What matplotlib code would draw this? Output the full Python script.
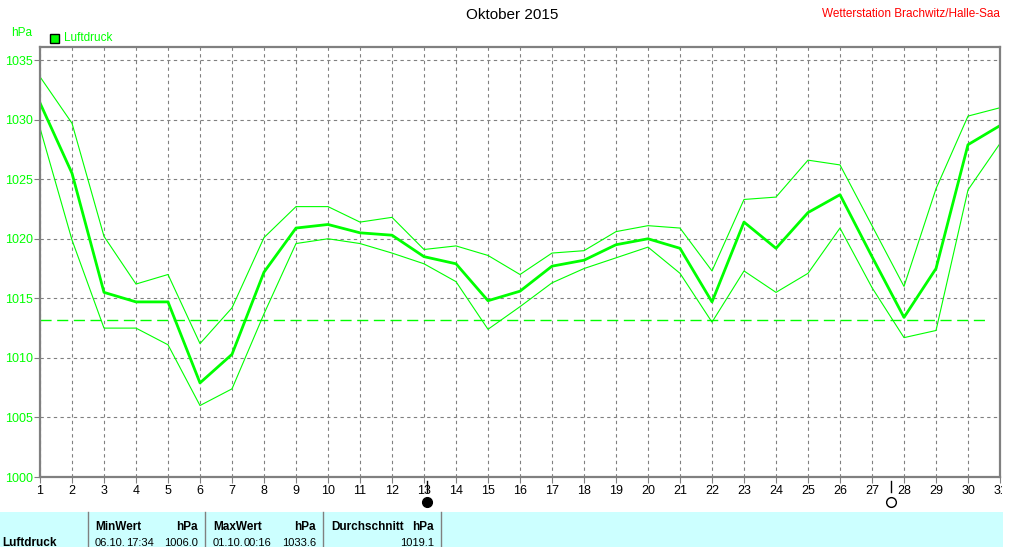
import matplotlib.pyplot as plt
from matplotlib.transforms import Bbox

plt.rcParams['font.family'] = ['Liberation Sans', 'DejaVu Sans']

days = list(range(1, 32))
p_mean = [1031.4, 1025.5, 1015.5, 1014.7, 1014.7, 1007.9, 1010.3, 1017.2, 1020.9, 1021.2,
          1020.5, 1020.3, 1018.5, 1017.9, 1014.8, 1015.6, 1017.7, 1018.2, 1019.5, 1020.0,
          1019.2, 1014.7, 1021.4, 1019.2, 1022.2, 1023.7, 1018.5, 1013.4, 1017.5, 1027.9, 1029.5]
p_max = [1033.6, 1029.7, 1020.2, 1016.2, 1017.0, 1011.2, 1014.2, 1020.1, 1022.7, 1022.7,
         1021.4, 1021.8, 1019.1, 1019.4, 1018.6, 1017.0, 1018.8, 1019.0, 1020.6, 1021.1,
         1020.9, 1017.3, 1023.3, 1023.5, 1026.6, 1026.2, 1021.1, 1016.0, 1024.2, 1030.3, 1031.0]
p_min = [1029.3, 1019.9, 1012.5, 1012.5, 1011.1, 1006.0, 1007.4, 1013.7, 1019.6, 1020.0,
         1019.6, 1018.8, 1017.9, 1016.4, 1012.4, 1014.3, 1016.3, 1017.5, 1018.4, 1019.3,
         1017.1, 1013.0, 1017.3, 1015.5, 1017.1, 1020.9, 1015.9, 1011.7, 1012.3, 1024.1, 1028.0]
ref_level = 1013.2
new_moon = 13.1
full_moon = 27.6

green = '#00ff00'
grey = '#808080'
W, H = 1021, 547

fig = plt.figure(figsize=(W / 100, H / 100), dpi=100)
ax = fig.add_axes([40 / W, 1 - 477 / H, 960 / W, 430 / H])

ax.plot(days, p_max, color=green, lw=0.8)
ax.plot(days, p_min, color=green, lw=0.8)
ax.plot(days, p_mean, color=green, lw=2.0)
ax.plot([1, 30.7], [ref_level, ref_level], color=green, lw=1.0, dashes=(8, 4))

ax.set_xlim(1, 31)
ax.set_ylim(1000, 1036.1)
ax.set_xticks(days)
ax.set_xticklabels([str(d) for d in days])
ax.set_yticks(range(1000, 1036, 5))
ax.grid(True, color=grey, ls=(0, (3, 3)), lw=0.8)
ax.tick_params(axis='x', colors=grey, labelcolor='black', labelsize=9, length=4, pad=2)
ax.tick_params(axis='y', colors=grey, labelcolor=green, labelsize=9, length=4, pad=1)
for s in ax.spines.values():
    s.set_color(grey)
    s.set_linewidth(1.6)

# clip the last x label like the original
clip = Bbox.from_extents(0, 0, 1002, H)
for lbl in ax.get_xticklabels():
    lbl.set_clip_on(True)
    lbl.set_clip_box(clip)

# moon phases
for d, fc in [(new_moon, 'black'), (full_moon, 'white')]:
    ax.plot([d, d], [-0.01, -0.035], transform=ax.get_xaxis_transform(), color='black',
            lw=1.0, clip_on=False)
    ax.plot([d], [-0.058], transform=ax.get_xaxis_transform(), marker='o', ms=7,
            mfc=fc, mec='black', mew=1.0, clip_on=False)

# header
fig.text(512 / W, 1 - 15 / H, 'Oktober 2015', ha='center', va='center', fontsize=11)
fig.text(1000 / W, 1 - 14 / H, 'Wetterstation Brachwitz/Halle-Saa', ha='right', va='center',
         fontsize=8.5, color='red')
fig.text(11 / W, 1 - 33 / H, 'hPa', ha='left', va='center', fontsize=8.5, color=green)
fig.patches.append(plt.Rectangle((50 / W, 1 - 43 / H), 9 / W, 9 / H, transform=fig.transFigure,
                                 fc=green, ec='black', lw=1.0))
fig.text(64 / W, 1 - 38 / H, 'Luftdruck', ha='left', va='center', fontsize=8.5, color=green)

# summary table
fig.patches.append(plt.Rectangle((0, 0), 1003 / W, 35 / H, transform=fig.transFigure,
                                 fc='#ccffff', ec='none'))
for xs in [88, 205, 323, 441]:
    fig.add_artist(plt.Line2D([xs / W, xs / W], [0, 35 / H], color=grey, lw=1.0))
y1, y2 = 1 - 527 / H, 1 - 543 / H
fb, fs = 8.5, 8
fig.text(2 / W, y2, 'Luftdruck', ha='left', va='center', fontsize=fb, weight='bold')
fig.text(95 / W, y1, 'MinWert', ha='left', va='center', fontsize=fb, weight='bold')
fig.text(198 / W, y1, 'hPa', ha='right', va='center', fontsize=fb, weight='bold')
fig.text(95 / W, y2, '06.10.', ha='left', va='center', fontsize=fs)
fig.text(126 / W, y2, '17:34', ha='left', va='center', fontsize=fs)
fig.text(198 / W, y2, '1006.0', ha='right', va='center', fontsize=fs)
fig.text(213 / W, y1, 'MaxWert', ha='left', va='center', fontsize=fb, weight='bold')
fig.text(316 / W, y1, 'hPa', ha='right', va='center', fontsize=fb, weight='bold')
fig.text(213 / W, y2, '01.10.', ha='left', va='center', fontsize=fs)
fig.text(244 / W, y2, '00:16', ha='left', va='center', fontsize=fs)
fig.text(316 / W, y2, '1033.6', ha='right', va='center', fontsize=fs)
fig.text(331 / W, y1, 'Durchschnitt', ha='left', va='center', fontsize=fb, weight='bold')
fig.text(434 / W, y1, 'hPa', ha='right', va='center', fontsize=fb, weight='bold')
fig.text(434 / W, y2, '1019.1', ha='right', va='center', fontsize=fs)

fig.savefig('out.png', dpi=100)
